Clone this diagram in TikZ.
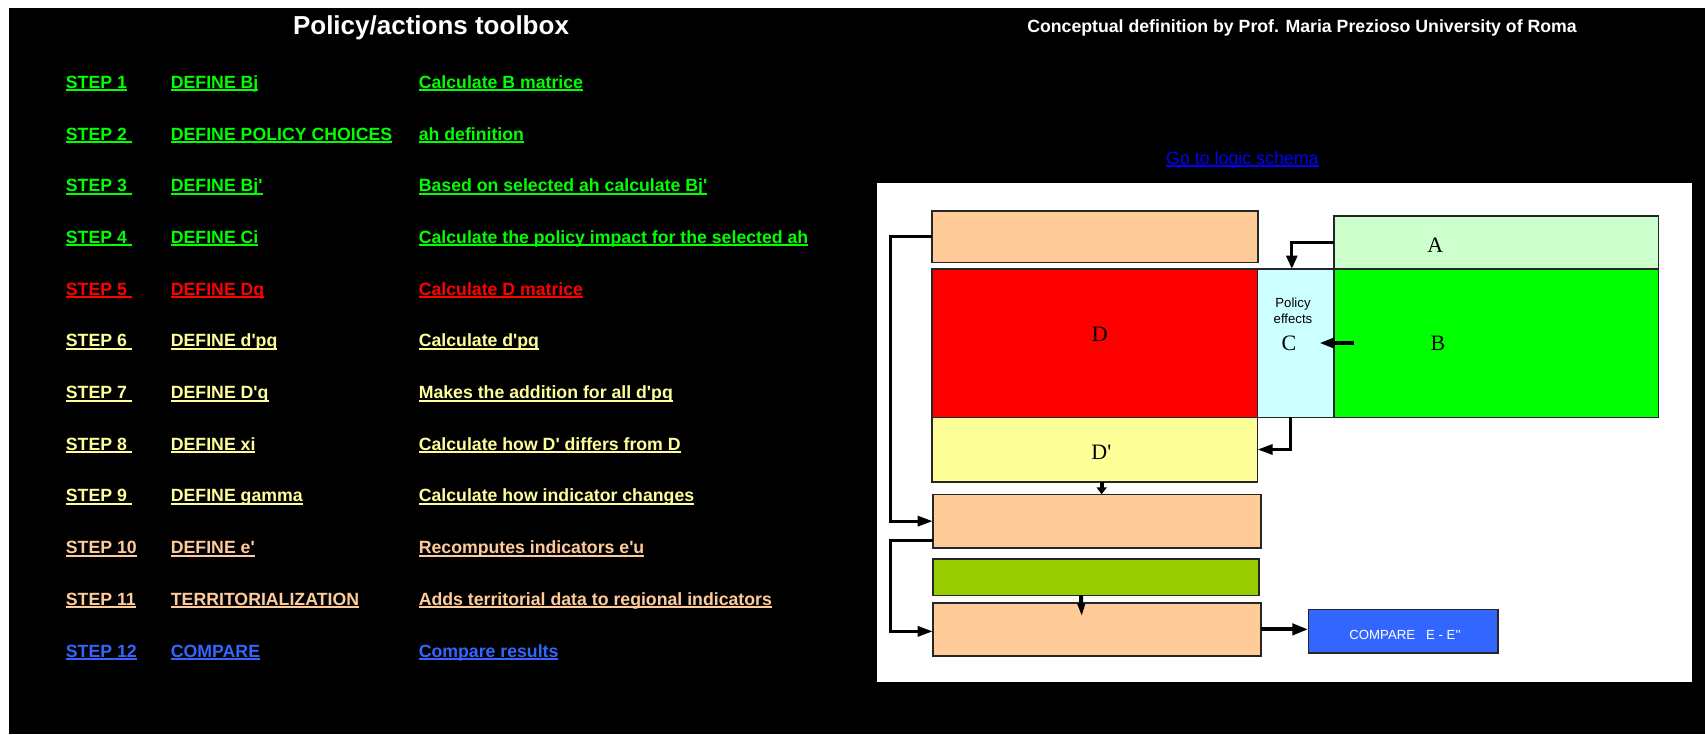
\documentclass[tikz,border=0pt]{standalone}
\usepackage{fontspec}
\setmainfont{Liberation Sans}[Ligatures=TeXOff]
\newfontfamily\tmsfont{Liberation Serif}[Ligatures=TeXOff]
\usetikzlibrary{arrows.meta}
\definecolor{cgreen}{HTML}{00FF00}
\definecolor{cred}{HTML}{FF0000}
\definecolor{cyellow}{HTML}{FFFF99}
\definecolor{cpeach}{HTML}{FFCC99}
\definecolor{cblue}{HTML}{3366FF}
\definecolor{clink}{HTML}{0000FF}
\definecolor{clightgreen}{HTML}{CCFFCC}
\definecolor{clightcyan}{HTML}{CCFFFF}
\definecolor{colive}{HTML}{99CC00}
\newcommand\ulx[1]{\setbox0=\hbox{#1}\rlap{\rule[-3pt]{\wd0}{2pt}}\box0}
\newcommand\ulthin[1]{\setbox0=\hbox{#1}\rlap{\rule[-2.6pt]{\wd0}{1.2pt}}\box0}
\begin{document}
\begin{tikzpicture}[x=1pt,y=-1pt,
  steptext/.style={anchor=base west, inner sep=0pt, font=\bfseries\fontsize{17.7}{21}\selectfont},
  box/.style={draw=black!85, line width=1.6pt, anchor=north west, inner sep=0pt, outer sep=0pt},
  lbl/.style={anchor=base, inner sep=0pt, font=\tmsfont\fontsize{22}{24}\selectfont},
  conn/.style={line width=3pt, -{Triangle[length=15pt,width=10pt]}},
  thickconn/.style={line width=4pt, -{Triangle[length=15pt,width=10pt]}},
]
\useasboundingbox (0,0) rectangle (1705,734);
\fill[white] (0,0) rectangle (1705,734);
\fill[black] (9,8) rectangle (1705,734);

% titles
\node[anchor=base, inner sep=0pt, text=white, font=\bfseries\fontsize{26}{30}\selectfont] (title) at (431,34.5) {Policy/actions toolbox};
\node[anchor=base, inner sep=0pt, text=white, font=\bfseries\fontsize{17.7}{21}\selectfont] (subtitle) at (1302,32.3) {Conceptual definition by Prof. Maria Prezioso University of Roma};

% steps
\foreach \n/\c/\a/\b/\t in {
  1/cgreen/{STEP 1}/{DEFINE Bj}/{Calculate B matrice},
  2/cgreen/{STEP 2\ }/{DEFINE POLICY CHOICES}/{ah definition},
  3/cgreen/{STEP 3\ }/{DEFINE Bj'}/{Based on selected ah calculate Bj'},
  4/cgreen/{STEP 4\ }/{DEFINE Ci}/{Calculate the policy impact for the selected ah},
  5/cred/{STEP 5\ }/{DEFINE Dq}/{Calculate D matrice},
  6/cyellow/{STEP 6\ }/{DEFINE d'pq}/{Calculate d'pq},
  7/cyellow/{STEP 7\ }/{DEFINE D'q}/{Makes the addition for all d'pq},
  8/cyellow/{STEP 8\ }/{DEFINE xi}/{Calculate how D' differs from D},
  9/cyellow/{STEP 9\ }/{DEFINE gamma}/{Calculate how indicator changes},
  10/cpeach/{STEP 10}/{DEFINE e'}/{Recomputes indicators e'u},
  11/cpeach/{STEP 11}/{TERRITORIALIZATION}/{Adds territorial data to regional indicators},
  12/cblue/{STEP 12}/{COMPARE}/{Compare results}} {
  \pgfmathsetmacro\yy{88.3+51.7*(\n-1)}
  \node[steptext, text=\c] (s\n a) at (65.7,\yy) {\ulx{\a}};
  \node[steptext, text=\c] (s\n b) at (170.7,\yy) {\ulx{\b}};
  \node[steptext, text=\c] (s\n c) at (418.6,\yy) {\ulx{\t}};
}

% link
\node[anchor=base west, inner sep=0pt, text=clink, font=\fontsize{17.8}{21}\selectfont] (link) at (1166,164) {\ulthin{Go to logic schema}};

% diagram panel
\fill[white] (877,182.7) rectangle (1692.4,681.7);

\node[box, fill=cpeach, minimum width=326, minimum height=51.3] (P1) at (931.7,211) {};
\node[box, fill=clightgreen, minimum width=324.5, minimum height=53] (A) at (1334,215.7) {};
\node[box, fill=cred, minimum width=325.9, minimum height=148.6] (D) at (931.7,268.7) {};
\node[box, fill=clightcyan, minimum width=76.4, minimum height=148.6] (C) at (1257.6,268.7) {};
\node[box, fill=cgreen, minimum width=324.5, minimum height=148.6] (B) at (1334,268.7) {};
\node[box, fill=cyellow, minimum width=325.9, minimum height=64.4] (Dp) at (931.7,417.3) {};
\node[box, fill=cpeach, minimum width=328.2, minimum height=53.7] (P2) at (932.7,494.3) {};
\node[box, fill=colive, minimum width=326.5, minimum height=36.3] (G) at (932.7,559) {};
\node[box, fill=cpeach, minimum width=328.2, minimum height=53.3] (P3) at (932.7,602.7) {};
\node[box, fill=cblue, minimum width=189.4, minimum height=43.4] (E) at (1308.3,609.3) {};

% labels
\node[lbl] (labA) at (1435.4,252) {A};
\node[lbl] (labB) at (1438,350) {B};
\node[lbl] (labC) at (1289,350) {C};
\node[lbl] (labD) at (1099.8,341) {D};
\node[lbl] (labDp) at (1101.4,459) {D'};
\node[anchor=base, inner sep=0pt, font=\fontsize{13.2}{16}\selectfont] (pol1) at (1293,307) {Policy};
\node[anchor=base, inner sep=0pt, font=\fontsize{13.2}{16}\selectfont] (pol2) at (1293,323.5) {effects};
\node[anchor=base, inner sep=0pt, text=white, font=\fontsize{13.2}{16}\selectfont] (cmp) at (1405,639) {COMPARE\ \ \ E - E''};

% connectors
\draw[line width=2.7pt, -{Triangle[length=13pt,width=11pt]}] (A.west) -| ([xshift=-4]C.north);
\draw[thickconn] ([xshift=20]B.west) -- ([xshift=-14.7]C.east);
\draw[conn] ([xshift=-5]C.south) |- (Dp.east);
\draw[line width=4pt, -{Triangle[length=7pt,width=10pt]}] ([xshift=7]Dp.south) -- ([xshift=7]Dp.south |- P2.north);
\coordinate (Lx) at (890,0);
\draw[conn] (P1.west) -- (P1.west -| Lx) |- (P2.west);
\coordinate (p2o) at ([yshift=8]P2.south west);
\coordinate (p3in) at ([yshift=-2]P3.west);
\draw[conn] (p2o) -- (p2o -| Lx) |- (p3in);
\coordinate (gEnd) at ([xshift=-15,yshift=-14]P3.north);
\draw[line width=4pt, -{Triangle[length=13pt,width=7pt]}] ([xshift=-15]G.south) -- (gEnd);
\draw[thickconn, -{Triangle[length=16pt,width=11pt]}] (P3.east) -- (P3.east -| E.west);
\end{tikzpicture}
\end{document}
